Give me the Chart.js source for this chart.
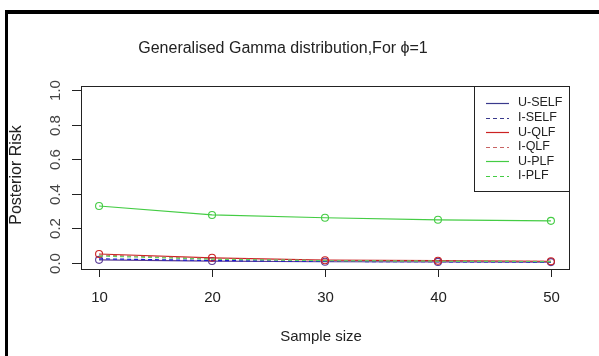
<!DOCTYPE html>
<html>
<head>
<meta charset="utf-8">
<script src="https://cdn.jsdelivr.net/npm/chart.js@4"></script>
<style>
  html, body { margin: 0; padding: 0; background: #fff; }
  #wrap { width: 599px; height: 356px; }
</style>
</head>
<body>
<div id="wrap"><canvas id="riskChart" width="599" height="356"></canvas></div>
<script>
// Sample sizes on the x axis
const sampleSize = [10, 20, 30, 40, 50];

// Posterior risk for each loss function
const uSelf = [0.018, 0.011, 0.007, 0.006, 0.005];
const iSelf = [0.024, 0.014, 0.009, 0.007, 0.005];
const uQlf = [0.052, 0.030, 0.016, 0.013, 0.010];
const iQlf = [0.046, 0.025, 0.014, 0.011, 0.009];
const uPlf = [0.330, 0.278, 0.262, 0.250, 0.244];
const iPlf = [0.040, 0.022, 0.013, 0.010, 0.008];

// Tick labels
const xTicks = [10, 20, 30, 40, 50];
const yTicks = [0.0, 0.2, 0.4, 0.6, 0.8, 1.0];

const seriesNames = ['U-SELF', 'I-SELF', 'U-QLF', 'I-QLF', 'U-PLF', 'I-PLF'];

const FONT = 'Liberation Sans, Arial, sans-serif';

function pts(values) {
  return values.map((v, i) => ({ x: sampleSize[i], y: v }));
}

function makeSet(label, values, color, dashed, marker) {
  return {
    label: label,
    data: pts(values),
    borderColor: color,
    borderWidth: 1.2,
    borderDash: dashed ? [4, 3] : [],
    pointStyle: 'circle',
    pointRadius: marker ? 3.5 : 0,
    pointBorderColor: color,
    pointBackgroundColor: 'rgba(0,0,0,0)',
    pointBorderWidth: 1.1,
    tension: 0,
    fill: false
  };
}

const datasets = [
  makeSet(seriesNames[5], iPlf, '#5fcf5f', true, false),
  makeSet(seriesNames[3], iQlf, '#c86464', true, false),
  makeSet(seriesNames[2], uQlf, '#cc2222', false, true),
  makeSet(seriesNames[1], iSelf, '#1a1acc', true, false),
  makeSet(seriesNames[0], uSelf, '#5a3c96', false, true),
  makeSet(seriesNames[4], uPlf, '#44cc44', false, true)
];

// legend entries in R order
const legendColors = ['#3a3a8c', '#3a3a8c', '#cc2222', '#c86464', '#44cc44', '#44cc44'];
const legendDashed = [false, true, false, true, false, true];

// R style frame, axes, labels and legend
const rStyle = {
  id: 'rStyle',
  beforeDraw(chart) {
    const c = chart.ctx;
    c.save();
    c.fillStyle = '#fff';
    c.fillRect(0, 0, chart.width, chart.height);
    c.restore();
  },
  afterDraw(chart) {
    const c = chart.ctx;
    const a = chart.chartArea;
    const xs = chart.scales.x;
    const ys = chart.scales.y;
    c.save();

    // outer frame (left and top)
    c.fillStyle = '#000';
    c.fillRect(5, 10, 3, chart.height - 10);
    c.fillRect(5, 10, chart.width - 5, 4);

    // plot box
    c.strokeStyle = '#222';
    c.lineWidth = 1;
    c.setLineDash([]);
    c.strokeRect(Math.round(a.left) + 0.5, Math.round(a.top) + 0.5,
      Math.round(a.right - a.left), Math.round(a.bottom - a.top));

    // x axis ticks and labels
    c.fillStyle = '#222';
    c.font = '15px ' + FONT;
    c.textAlign = 'center';
    c.textBaseline = 'middle';
    xTicks.forEach(t => {
      const px = Math.round(xs.getPixelForValue(t)) + 0.5;
      c.beginPath();
      c.moveTo(px, a.bottom);
      c.lineTo(px, a.bottom + 8);
      c.stroke();
      c.fillText(String(t), px, 298);
    });

    // y axis ticks and rotated labels
    yTicks.forEach(t => {
      const py = Math.round(ys.getPixelForValue(t)) + 0.5;
      c.beginPath();
      c.moveTo(a.left - 9, py);
      c.lineTo(a.left, py);
      c.stroke();
      c.save();
      c.translate(56, py);
      c.rotate(-Math.PI / 2);
      c.fillStyle = '#444';
      c.fillText(t.toFixed(1), 0, 0);
      c.restore();
    });

    // axis titles
    c.fillStyle = '#222';
    c.font = '15px ' + FONT;
    c.fillText('Sample size', (a.left + a.right) / 2 - 4, 337);
    c.save();
    c.translate(17, 175);
    c.rotate(-Math.PI / 2);
    c.font = '16px ' + FONT;
    c.fillText('Posterior Risk', 0, 0);
    c.restore();

    // main title
    c.font = '16px ' + FONT;
    c.fillText('Generalised Gamma distribution,For \u03D5=1', 283, 49);

    // legend
    const lx = 474, ly = 86, lw = 95, lh = 105;
    c.fillStyle = '#fff';
    c.fillRect(lx, ly, lw, lh);
    c.strokeStyle = '#222';
    c.strokeRect(lx + 0.5, ly + 0.5, lw, lh);
    c.font = '12.5px ' + FONT;
    c.textAlign = 'left';
    seriesNames.forEach((name, i) => {
      const ry = 103 + i * 14.6;
      c.strokeStyle = legendColors[i];
      c.lineWidth = 1.2;
      c.setLineDash(legendDashed[i] ? [4, 3] : []);
      c.beginPath();
      c.moveTo(486, Math.round(ry) + 0.5);
      c.lineTo(509, Math.round(ry) + 0.5);
      c.stroke();
      c.fillStyle = '#222';
      c.fillText(name, 518, ry);
    });
    c.restore();
  }
};

window.riskChart = new Chart(document.getElementById('riskChart').getContext('2d'), {
  type: 'line',
  data: { datasets: datasets },
  options: {
    responsive: false,
    animation: false,
    layout: { padding: { left: 81, top: 86, right: 30, bottom: 87 } },
    plugins: { legend: { display: false }, tooltip: { enabled: false } },
    scales: {
      x: { type: 'linear', min: 8.4, max: 51.6, display: false },
      y: { type: 'linear', min: -0.035, max: 1.025, display: false }
    }
  },
  plugins: [rStyle]
});
</script>
</body>
</html>
